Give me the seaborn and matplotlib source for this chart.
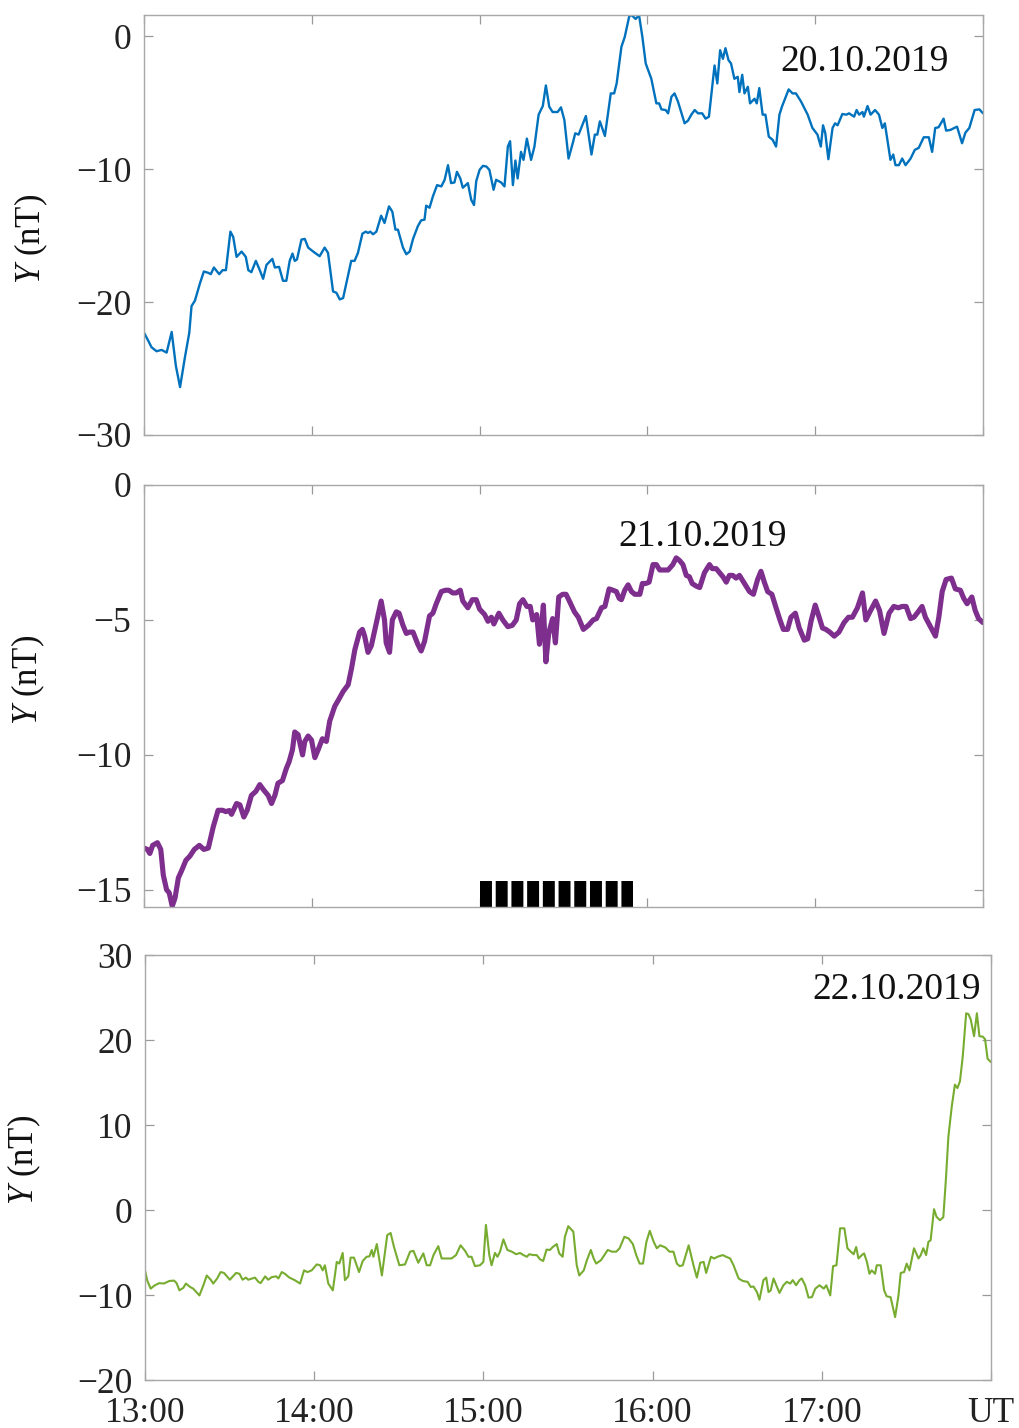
import matplotlib
matplotlib.use('Agg')
import matplotlib.pyplot as plt
import numpy as np
import pandas
import seaborn as sns

t_20 = [0, 1.5, 2.7, 4.5, 6.3, 8.1, 9.9, 11.4, 12.9, 14.6, 16.2, 17.0, 18.2, 20.0, 21.4, 23.0, 23.9, 25.0,
        26.9, 28.1, 29.3, 30.9, 31.9, 33.1, 34.9, 36.4, 37.3, 38.4, 40.0, 41.4, 42.6, 43.8, 45.9, 46.8, 48.3,
        49.7, 50.9, 52.1, 53.1, 53.9, 54.7, 56.3, 57.5, 58.7, 60.5, 62.8, 64.6, 65.8, 67.6, 68.8, 70.0, 71.2,
        72.4, 74.1, 75.3, 76.5, 78.1, 79.3, 80.1, 80.9, 81.9, 83.1, 84.8, 86.0, 87.6, 88.8, 89.9, 90.8, 92.6,
        93.8, 95.0, 96.2, 97.9, 99.1, 100.3, 100.9, 102.1, 103.3, 104.8, 106.3, 107.5, 108.7, 109.8, 111.0,
        111.9, 113.1, 114.0, 115.8, 117.0, 118.0, 118.8, 120.0, 121.2, 122.4, 123.5, 125.0, 125.9, 127.7,
        128.9, 130.1, 130.9, 131.9, 132.8, 133.6, 134.8, 135.7, 136.9, 138.4, 139.6, 141.1, 142.6, 143.7,
        144.9, 146.1, 147.9, 149.1, 150.3, 151.8, 153.3, 154.2, 155.4, 158.0, 160.0, 161.2, 162.1, 163.0,
        164.8, 166.9, 168.1, 169.0, 170.7, 171.9, 173.5, 174.3, 175.8, 177.0, 178.2, 179.4, 181.4, 183.2,
        184.2, 185.0, 186.5, 187.4, 188.6, 189.7, 190.9, 193.3, 194.5, 195.7, 196.9, 198.1, 199.6, 200.8,
        202.0, 204.0, 205.0, 206.0, 207.0, 207.9, 209.0, 209.9, 211.1, 212.3, 212.9, 213.9, 214.7, 215.9,
        216.7, 218.3, 219.1, 220.0, 221.2, 222.2, 223.4, 224.8, 226.0, 227.2, 228.1, 230.5, 231.9, 233.1,
        234.9, 237.3, 239.0, 240.8, 242.0, 242.8, 243.6, 244.7, 246.2, 247.1, 248.0, 249.7, 251.1, 252.1,
        253.9, 254.8, 255.7, 256.9, 257.4, 258.7, 259.8, 261.4, 262.8, 264.0, 264.9, 266.9, 267.9, 268.7,
        269.9, 271.1, 272.3, 274.1, 275.6, 277.0, 278.8, 280.6, 281.8, 282.9, 284.1, 285.9, 286.8, 288.3,
        290.7, 292.5, 293.7, 295.1, 297.0, 298.7, 300.0]
y_20 = [-22.3, -22.9, -23.4, -23.7, -23.6, -23.8, -22.25, -24.8, -26.4, -24.2, -22.3, -20.3, -19.9, -18.6,
        -17.7, -17.8, -17.9, -17.4, -17.9, -17.6, -17.6, -14.7, -15.1, -16.6, -16.2, -16.6, -17.6, -17.75,
        -16.9, -17.6, -18.25, -17.2, -16.75, -17.4, -17.35, -18.4, -18.4, -16.9, -16.35, -16.9, -16.8, -15.3,
        -15.25, -15.9, -16.2, -16.55, -15.9, -16.3, -19.2, -19.3, -19.8, -19.7, -18.55, -16.9, -16.9, -16.3,
        -14.85, -14.7, -14.8, -14.7, -14.9, -14.7, -13.5, -14.05, -12.8, -13.2, -14.55, -14.55, -15.9, -16.4,
        -16.2, -15.25, -14.3, -13.85, -13.8, -12.75, -12.9, -12.05, -11.2, -11.3, -10.8, -9.7, -11.05, -11.0,
        -10.2, -10.7, -11.4, -11.05, -12.3, -12.7, -10.9, -10.05, -9.75, -9.8, -10.05, -11.55, -10.8, -11.0,
        -11.3, -8.3, -7.9, -11.2, -9.35, -10.7, -8.7, -9.3, -7.7, -9.3, -8.3, -5.9, -5.25, -3.7, -5.3, -5.7,
        -5.7, -5.35, -6.3, -9.2, -8.05, -7.3, -7.4, -6.0, -8.9, -7.4, -7.4, -6.4, -7.5, -4.3, -4.3, -3.55,
        -0.8, -0.05, 1.5, 1.6, 1.3, 1.6, -0.05, -2.05, -3.2, -5.05, -5.05, -5.5, -5.55, -5.8, -4.55, -4.3,
        -4.9, -6.55, -6.35, -5.9, -5.55, -5.8, -5.8, -6.2, -6.05, -2.2, -3.55, -1.05, -1.7, -0.9, -1.8, -2.05,
        -3.2, -3.05, -4.2, -2.9, -4.3, -3.8, -5.05, -4.7, -5.05, -3.9, -5.9, -5.9, -7.55, -7.8, -8.3, -5.9,
        -5.3, -4.0, -4.3, -4.3, -4.9, -5.9, -6.9, -7.4, -8.3, -6.7, -7.3, -9.25, -6.9, -6.55, -6.7, -5.85,
        -5.9, -5.8, -6.05, -5.55, -5.9, -5.7, -6.05, -5.25, -5.9, -5.55, -5.9, -6.9, -6.55, -9.3, -8.9, -9.7,
        -9.7, -9.2, -9.7, -9.2, -8.55, -8.4, -7.6, -7.6, -8.7, -6.9, -6.85, -6.2, -7.1, -7.05, -6.8, -8.05,
        -7.25, -6.9, -5.55, -5.5, -5.8]

t_21 = [0, 1.2, 2.1, 3.1, 4.8, 6.0, 6.9, 8.1, 9.0, 10.1, 11.1, 12.3, 13.4, 15.0, 16.4, 18.0, 19.8, 21.4,
        23.0, 24.8, 26.5, 28.1, 29.3, 30.5, 31.3, 33.1, 34.3, 35.7, 36.9, 38.4, 40.0, 41.4, 42.8, 44.4, 45.6,
        46.8, 47.9, 49.5, 50.9, 51.9, 53.1, 53.9, 55.1, 56.7, 57.5, 58.7, 59.9, 61.1, 62.3, 63.8, 65.2, 66.4,
        68.2, 69.6, 71.2, 73.0, 74.2, 75.4, 77.1, 78.1, 78.9, 80.1, 81.3, 83.1, 84.8, 86.0, 86.6, 87.8, 88.8,
        90.2, 91.2, 92.6, 93.8, 95.0, 96.2, 97.9, 99.1, 100.3, 102.1, 103.3, 104.5, 106.3, 107.8, 109.0, 110.4,
        111.6, 113.1, 114.0, 115.8, 117.4, 118.8, 120.0, 121.8, 123.0, 124.2, 125.1, 126.9, 128.3, 130.1,
        131.7, 133.1, 134.3, 135.5, 136.9, 138.1, 139.0, 140.4, 141.4, 142.0, 142.8, 143.7, 144.7, 146.1,
        147.1, 148.3, 149.7, 150.9, 152.1, 153.9, 155.3, 157.1, 158.9, 160.6, 161.8, 163.6, 164.8, 166.3,
        167.7, 168.9, 169.9, 170.7, 171.9, 173.1, 174.3, 175.5, 177.3, 178.2, 179.4, 180.6, 182.0, 183.2,
        184.4, 186.2, 187.4, 189.1, 190.3, 191.5, 192.7, 193.9, 195.0, 196.0, 197.5, 198.7, 200.4, 202.2,
        203.2, 204.6, 205.8, 207.0, 208.2, 209.3, 210.5, 211.7, 212.9, 214.7, 216.5, 217.9, 219.4, 220.6,
        221.8, 223.0, 224.5, 226.0, 227.4, 228.6, 230.1, 231.3, 232.9, 234.3, 236.1, 237.3, 238.5, 240.0,
        241.4, 242.6, 243.8, 245.2, 246.8, 248.5, 250.3, 251.9, 253.3, 255.1, 256.9, 258.1, 259.8, 261.6,
        263.0, 264.6, 266.4, 268.1, 269.7, 271.1, 272.5, 274.1, 275.3, 276.8, 278.2, 279.4, 281.2, 283.0,
        284.2, 285.4, 286.8, 288.7, 290.1, 291.9, 293.1, 294.3, 296.0, 297.2, 298.4, 300.0]
y_21 = [-13.45, -13.5, -13.65, -13.35, -13.25, -13.5, -14.45, -15.0, -15.1, -15.6, -15.3, -14.55, -14.3,
        -13.9, -13.75, -13.5, -13.35, -13.5, -13.45, -12.65, -12.05, -12.05, -12.1, -12.06, -12.2, -11.8,
        -11.85, -12.3, -12.05, -11.5, -11.35, -11.1, -11.3, -11.5, -11.8, -11.5, -11.05, -10.95, -10.5, -10.25,
        -9.8, -9.15, -9.25, -10.0, -9.5, -9.3, -9.45, -10.1, -9.8, -9.4, -9.5, -8.75, -8.2, -7.95, -7.65, -7.4,
        -6.8, -6.1, -5.45, -5.35, -5.6, -6.2, -5.95, -5.1, -4.3, -5.0, -5.85, -6.2, -5.0, -4.7, -4.75, -5.2,
        -5.5, -5.45, -5.45, -5.9, -6.15, -5.8, -4.85, -4.75, -4.4, -3.95, -3.9, -3.9, -4.0, -4.0, -3.9, -4.3,
        -4.55, -4.25, -4.25, -4.6, -4.8, -5.05, -4.9, -5.15, -4.75, -5.0, -5.25, -5.2, -5.0, -4.4, -4.25, -4.5,
        -4.5, -5.0, -4.8, -5.9, -5.35, -4.45, -6.55, -5.5, -4.95, -5.85, -4.15, -4.05, -4.05, -4.3, -4.7, -4.9,
        -5.35, -5.2, -5.0, -4.95, -4.55, -4.5, -3.85, -3.9, -3.95, -4.2, -4.25, -3.9, -3.7, -3.95, -4.05, -4.05,
        -3.65, -3.65, -3.6, -2.95, -2.95, -3.15, -3.15, -3.15, -2.95, -2.7, -2.8, -2.95, -3.35, -3.4, -3.65,
        -3.75, -3.8, -3.25, -2.95, -3.1, -3.1, -3.25, -3.4, -3.6, -3.35, -3.35, -3.45, -3.35, -3.65, -3.95,
        -4.05, -3.5, -3.2, -3.6, -3.95, -4.05, -4.55, -5.0, -5.35, -5.35, -4.9, -4.75, -5.3, -5.75, -5.7,
        -5.05, -4.45, -4.9, -5.3, -5.35, -5.45, -5.6, -5.45, -5.1, -4.9, -4.9, -4.55, -4.0, -5.0, -4.65, -4.3,
        -4.65, -5.5, -4.75, -4.5, -4.55, -4.5, -4.5, -4.95, -4.9, -4.7, -4.5, -4.9, -5.25, -5.6, -4.9, -3.95,
        -3.5, -3.45, -3.85, -3.9, -4.2, -4.4, -4.15, -4.65, -4.95, -5.1]

t_22 = [0, 0.8, 2.0, 3.5, 5.1, 6.7, 8.6, 10.3, 11.2, 12.2, 13.6, 14.5, 16.0, 17.1, 19.3, 20.7, 21.9, 23.3,
        24.2, 25.6, 26.8, 28.0, 30.1, 32.3, 33.5, 34.6, 35.8, 36.6, 39.0, 40.2, 41.0, 42.6, 43.7, 44.9, 46.5,
        47.3, 48.5, 49.6, 51.2, 53.1, 55.0, 56.4, 57.6, 59.1, 60.9, 62.1, 63.0, 63.8, 65.0, 66.6, 68.0, 68.9,
        70.1, 70.9, 72.1, 72.9, 74.1, 75.9, 77.2, 78.6, 79.6, 80.4, 81.0, 82.2, 84.0, 85.9, 87.1, 88.3, 90.2,
        92.2, 94.0, 95.2, 96.9, 98.7, 99.9, 101.1, 102.3, 104.0, 105.2, 107.0, 108.7, 110.3, 111.9, 113.5,
        114.7, 115.8, 117.0, 118.8, 120.0, 120.9, 122.1, 122.9, 124.1, 125.0, 125.9, 127.1, 128.5, 130.1,
        131.6, 133.0, 134.2, 135.4, 136.3, 137.7, 138.9, 140.1, 141.2, 142.4, 143.6, 144.6, 146.0, 146.9,
        148.1, 148.9, 150.1, 151.9, 153.1, 154.0, 155.6, 156.7, 158.1, 159.1, 160.0, 161.7, 162.6, 164.1,
        165.6, 167.1, 168.3, 170.0, 171.5, 173.0, 174.2, 175.4, 176.6, 177.8, 179.0, 180.4, 181.5, 182.7,
        184.5, 186.0, 187.4, 188.6, 189.6, 190.7, 192.8, 194.5, 195.7, 196.9, 198.1, 199.0, 200.7, 201.8,
        203.4, 204.9, 206.1, 207.5, 208.7, 210.5, 212.0, 213.7, 214.8, 215.8, 217.0, 217.9, 219.3, 220.3,
        221.1, 221.9, 222.9, 224.1, 225.0, 226.4, 227.6, 228.8, 229.7, 230.9, 232.1, 232.9, 234.1, 235.3,
        236.5, 237.7, 239.2, 240.7, 241.6, 243.0, 244.0, 245.2, 246.5, 248.0, 249.1, 250.3, 251.3, 252.2,
        253.0, 254.2, 255.0, 256.0, 256.9, 257.7, 258.9, 259.5, 260.9, 262.1, 263.0, 264.4, 266.0, 267.2,
        268.0, 269.2, 270.1, 271.1, 272.7, 274.3, 275.1, 276.0, 277.0, 277.8, 278.6, 279.8, 280.7, 281.9,
        283.1, 284.0, 284.9, 286.1, 287.2, 288.1, 289.0, 290.0, 291.2, 292.0, 292.8, 294.0, 295.0, 295.9,
        297.1, 297.9, 298.8, 300.0]
y_22 = [-7.1, -8.3, -9.25, -8.85, -8.6, -8.65, -8.35, -8.3, -8.6, -9.45, -9.15, -8.65, -9.05, -9.25, -10.05,
        -8.85, -7.7, -8.2, -8.65, -8.05, -7.3, -7.4, -8.2, -7.4, -7.5, -8.2, -7.95, -8.2, -7.95, -8.45, -8.6,
        -7.8, -8.2, -7.9, -7.8, -8.05, -7.3, -7.5, -7.95, -8.25, -8.65, -7.1, -7.3, -7.1, -6.4, -6.5, -7.1,
        -6.5, -8.65, -9.45, -6.1, -6.3, -5.05, -8.25, -7.8, -5.6, -5.6, -7.3, -6.0, -5.5, -5.45, -4.7, -5.5,
        -4.0, -7.7, -2.95, -2.7, -4.35, -6.5, -6.4, -4.9, -4.8, -6.2, -5.1, -6.5, -6.5, -5.3, -4.25, -5.7,
        -5.7, -5.7, -5.3, -4.15, -4.8, -5.5, -5.5, -6.6, -6.5, -6.1, -1.75, -5.3, -6.5, -5.05, -5.5, -4.9,
        -3.45, -4.7, -4.9, -5.2, -5.05, -5.3, -5.5, -5.2, -5.3, -5.3, -5.8, -6.0, -4.65, -4.7, -4.35, -4.0,
        -5.1, -5.5, -3.15, -1.9, -2.55, -6.5, -7.7, -7.1, -5.9, -4.7, -5.7, -6.3, -5.9, -5.45, -4.7, -4.9,
        -4.9, -4.5, -3.15, -3.35, -4.0, -5.3, -6.3, -6.3, -3.75, -2.45, -3.75, -4.5, -4.15, -4.4, -4.9, -4.9,
        -6.3, -6.6, -6.5, -4.15, -6.5, -7.95, -6.2, -6.1, -7.4, -5.5, -5.7, -5.45, -5.3, -5.5, -5.7, -6.5,
        -8.05, -8.35, -8.45, -9.05, -9.0, -9.65, -10.55, -8.25, -7.95, -9.65, -9.45, -8.05, -9.05, -9.75,
        -8.85, -8.45, -8.65, -8.25, -8.85, -8.25, -8.05, -8.85, -10.3, -10.25, -9.25, -8.85, -9.25, -8.85,
        -10.05, -6.6, -6.5, -2.15, -2.15, -4.5, -4.9, -5.2, -4.35, -5.7, -5.3, -5.1, -6.1, -7.5, -7.1, -7.5,
        -6.5, -6.5, -9.45, -10.15, -10.25, -12.6, -10.05, -7.4, -7.3, -6.3, -7.1, -4.5, -5.7, -5.3, -4.5, -5.3,
        -3.75, -3.55, 0.1, -0.8, -1.2, -0.85, 3.55, 8.65, 12.2, 14.75, 14.35, 15.15, 18.1, 23.15, 23.05, 22.45,
        20.45, 23.15, 20.45, 20.4, 20.1, 17.8, 17.4]

dates = ['20.10.2019', '21.10.2019', '22.10.2019']
colors = ['#0072BD', '#7E2F8E', '#77AC30']
widths = [1.7, 3.7, 1.5]
ylims = [(-30, 1.6), (-15.63, 0), (-20, 30)]
yticks = [[-30, -20, -10, 0], [-15, -10, -5, 0], [-20, -10, 0, 10, 20, 30]]
xtick_pos = [0, 60, 120, 180, 240, 300]
xtick_labels = ['13:00', '14:00', '15:00', '16:00', '17:00', 'UT']
# interval marked by the black dashed bar on 21.10.2019 (minutes after 13:00)
bar_t = [120, 175]
bar_y = [-15.15, -15.15]

sns.set_theme(style='ticks')
plt.rcParams['font.family'] = ['Liberation Serif', 'DejaVu Serif']
plt.rcParams['mathtext.fontset'] = 'custom'
plt.rcParams['mathtext.it'] = 'Liberation Serif:italic'
plt.rcParams['mathtext.rm'] = 'Liberation Serif'
plt.rcParams['axes.unicode_minus'] = True

fig = plt.figure(figsize=(10.19, 14.28), dpi=100)
boxes = [[0.1413, 0.6954, 0.8234, 0.2941],
         [0.1413, 0.3649, 0.8234, 0.2955],
         [0.1423, 0.0336, 0.8302, 0.2976]]
label_pos = [(-0.112, 0.467), (-0.115, 0.538), (-0.12, 0.518)]
date_pos = [(0.859, 0.888), (0.666, 0.877), (0.888, 0.918)]

frames = [pandas.DataFrame({'t': t, 'y': y}) for t, y in [(t_20, y_20), (t_21, y_21), (t_22, y_22)]]

for i, df in enumerate(frames):
    ax = fig.add_axes(boxes[i])
    sns.lineplot(data=df, x='t', y='y', ax=ax, color=colors[i], linewidth=widths[i],
                 sort=False, estimator=None)
    if i == 1:
        ax.plot(bar_t, bar_y, color='black', linewidth=18.7, dashes=(0.46, 0.145),
                dash_capstyle='butt', solid_capstyle='butt')
    ax.set_xlim(0, 300)
    ax.set_ylim(*ylims[i])
    ax.set_yticks(yticks[i])
    ax.set_xticks(xtick_pos)
    if i == 2:
        ax.set_xticklabels(xtick_labels)
    else:
        ax.set_xticklabels([])
    ax.set_xlabel('')
    ax.set_ylabel('$Y$ (nT)', fontsize=25, color='#111111')
    ax.yaxis.set_label_coords(*label_pos[i])
    for s in ax.spines.values():
        s.set_color('#a8a8a8')
        s.set_linewidth(1.0)
    ax.tick_params(direction='in', length=6.5, width=0.9, color='#9a9a9a',
                   top=True, right=True, labelsize=25.5, labelcolor='#222222')
    ax.tick_params(axis='y', pad=9)
    ax.tick_params(axis='x', pad=12)
    ax.text(date_pos[i][0], date_pos[i][1], dates[i], transform=ax.transAxes,
            ha='center', va='center', fontsize=27, color='#111111')

fig.savefig('out.png', dpi=100)
